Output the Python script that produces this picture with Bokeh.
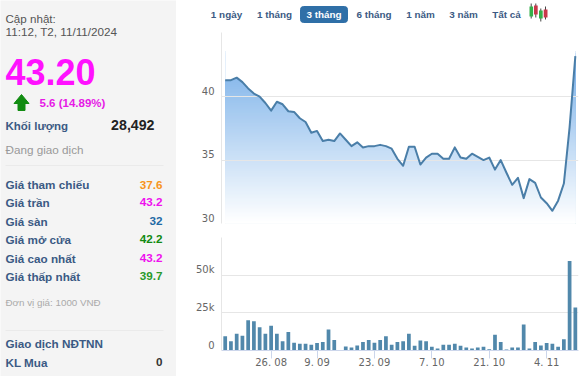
from bokeh.plotting import figure
from bokeh.layouts import row, column
from bokeh.embed import file_html
from bokeh.resources import INLINE
from bokeh.core.properties import value
from bokeh.models import FixedTicker

price = [41.3,41.3,41.5,41.15,40.65,40.25,40.0,39.5,38.9,39.6,39.4,38.85,38.8,38.3,38.0,37.15,37.3,36.5,36.6,36.5,
         37.1,36.6,36.1,36.4,36.0,36.1,36.1,36.2,36.1,35.9,35.1,34.55,36.05,36.05,34.65,35.2,35.5,35.5,35.1,35.1,
         36.0,35.2,35.1,35.5,35.25,35.0,35.2,34.25,35.0,34.0,33.05,33.6,32.0,33.5,33.2,32.05,31.6,31.0,31.8,33.15,37.6,43.2]
volume = [9.4,6.2,11.2,9.8,20,19.4,15.4,11.2,16.5,11.2,6.2,12.3,5.1,4.5,4.5,3.8,4.9,5.6,14,6.9,
          0,2.7,2,3.3,5.6,6.9,5.1,6.9,9.4,3.8,5.6,6.2,11.2,3.1,6.7,6.2,2.5,1.3,3.8,3.8,
          4.5,3.1,2,1.3,2,2.5,0.9,10.5,5.6,0.7,2,2,17.2,1.3,5.6,3.3,4.9,4.5,2.5,7.4,59.4,28.5]
idx = list(range(len(price)))
date_ticks = {8:"26. 08",16:"9. 09",26:"23. 09",36:"7. 10",46:"21. 10",56:"4. 11"}
price_ticks = [30,35,40]
vol_ticks = [0,25,50,75]
vol_labels = {0:"0",25:"25k",50:"50k"}

tabs = ["1 ngày","1 tháng","3 tháng","6 tháng","1 năm","3 năm","Tất cả"]
tab_x = [226,274,323.5,373.5,420,463,506]
tab_col = ["#3b5a84","#3b5a84","#ffffff","#3b5a84","#3b5a84","#3b5a84","#3b5a84"]

rows = ["Giá tham chiếu","Giá trần","Giá sàn","Giá mở cửa","Giá cao nhất","Giá thấp nhất"]
row_vals = ["37.6","43.2","32","42.2","43.2","39.7"]
row_cols = ["#f7941d","#ee11ee","#1f6aa5","#118a11","#ee11ee","#2a9a2a"]
row_y = [184,201.7,220.7,238.7,257.7,275.7]

LAB="#3b5a84"; F="Liberation Sans"; AX="DejaVu Sans"; AXC="#666666"

# ---------- side panel
s = figure(width=176,height=376,x_range=(0,176),y_range=(376,0),output_backend="svg",toolbar_location=None,
           min_border=0,outline_line_color=None,background_fill_color="#f4f4f4",border_fill_color="#f4f4f4",
           x_axis_type=None,y_axis_type=None,frame_align=False)
s.grid.visible=False
def T(fig,x,y,t,size,col,bold=False,align="left"):
    fig.text([x],[y],text=[t],text_font=value(F),text_font_size=f"{size}px",text_color=col,
             text_font_style="bold" if bold else "normal",text_align=align,text_baseline="middle")
T(s,5,18,"Cập nhật:",11.6,"#555555")
T(s,5,31,"11:12, T2, 11/11/2024",11.7,"#555555")
T(s,5,71.5,"43.20",36,"#ff11ff",True)
s.patch([21,28.5,24.5,24.5,17.5,17.5,13.5],[94,103,103,110,110,103,103],color="#128c12")
T(s,39,102,"5.6 (14.89%)",11.5,"#e619e6",True)
T(s,5,125,"Khối lượng",11.5,LAB,True)
T(s,154,124,"28,492",14.2,"#222222",True,"right")
T(s,5,149,"Đang giao dịch",11.7,"#999999")
s.segment([5,5],[165,330],[163,163],[165,330],line_color="#eaeaea",line_width=1)
for n,v,c,y in zip(rows,row_vals,row_cols,row_y):
    T(s,5,y,n,11.7,LAB,True)
    T(s,162,y,v,11.7,c,True,"right")
T(s,5,301.7,"Đơn vị giá: 1000 VNĐ",9.8,"#aaaaaa")
T(s,5,342.7,"Giao dịch NĐTNN",11.7,LAB,True)
T(s,5,361.7,"KL Mua",11.7,LAB,True)
T(s,162,361.7,"0",11.7,"#333333",True,"right")
T(s,5,380,"KL Bán",11.7,LAB,True)
T(s,162,380,"0",11.7,"#333333",True,"right")

# ---------- tab strip
t = figure(width=409,height=32,x_range=(176,585),y_range=(32,0),output_backend="svg",toolbar_location=None,
           min_border=0,outline_line_color=None,x_axis_type=None,y_axis_type=None,frame_align=False)
t.grid.visible=False
t.quad(left=[300],right=[347],top=[6],bottom=[22],color="#2f6fa7",border_radius=3)
for n,x,c in zip(tabs,tab_x,tab_col):
    T(t,x,13.5,n,9.9,c,True,"center")
t.segment([530.7,535.3,540.3,545],[3,3,8,6],[530.7,535.3,540.3,545],[18,17,21,19],line_color="#444444",line_width=1)
t.quad(left=[529,533.5,538.5,543.2],right=[532.6,537.2,542.2,547],top=[6,5,10,9],bottom=[16,14,18,17],
       fill_color=["#35b04a","#c8384a","#35b04a","#c8384a"],line_color=None)

def style_y(ax,ticks,labels,shift):
    # the reference sets its y labels just above their gridlines: the label ticks are lifted by `shift`
    ax.ticker=FixedTicker(ticks=[k+shift for k in ticks])
    ax.major_label_overrides={k+shift:l for k,l in zip(ticks,labels)}
    ax.axis_line_color="#e6e6e6"; ax.major_tick_line_color=None; ax.minor_tick_line_color=None
    ax.major_tick_in=0; ax.major_tick_out=0
    ax.major_label_text_font=AX; ax.major_label_text_font_size="10px"; ax.major_label_text_color=AXC
    ax.major_label_standoff=7

# ---------- price
p = figure(width=409,height=200,x_range=(-0.645,61.55),y_range=(30,45.06),output_backend="svg",toolbar_location=None,
           min_border_left=45,min_border_right=7,min_border_top=0,min_border_bottom=9,outline_line_color=None)
p.xaxis.visible=False
p.xgrid.visible=False
p.ygrid.grid_line_color="#e6e6e6"
p.ygrid.ticker=FixedTicker(ticks=price_ticks+[45.06])
style_y(p.yaxis[0],price_ticks,[str(k) for k in price_ticks],0.45)
# vertical colour fade under the price line, painted top to bottom, then masked above the line
n=86
c0=(118,174,232); c1=(255,255,255)
levels=[43.6-(13.6*i/n) for i in range(n)]
cols=["#%02x%02x%02x"%tuple(int(round(a+(b-a)*i/(n-1))) for a,b in zip(c0,c1)) for i in range(n)]
p.quad(left=idx[0],right=idx[-1],top=levels,bottom=30,fill_color=cols,line_color=None,level="image")
p.varea(x=idx,y1=price,y2=45.06,fill_color="#ffffff",level="image")
p.line(idx,price,line_color="#4a7ea8",line_width=2,line_join="round")

# ---------- volume
v = figure(width=409,height=144,x_range=p.x_range,y_range=(0,75),output_backend="svg",toolbar_location=None,
           min_border_left=45,min_border_right=7,min_border_top=5,min_border_bottom=26,outline_line_color=None)
v.vbar(x=idx,top=volume,width=0.65,fill_color="#5188ab",line_color=None)
v.xgrid.visible=False
v.ygrid.grid_line_color="#e6e6e6"
v.ygrid.ticker=FixedTicker(ticks=vol_ticks)
style_y(v.yaxis[0],list(vol_labels),list(vol_labels.values()),3.6)
ax2=v.xaxis[0]
ax2.ticker=FixedTicker(ticks=list(date_ticks)); ax2.major_label_overrides=date_ticks
ax2.axis_line_color="#ccd6eb"; ax2.major_tick_line_color="#ccd6eb"; ax2.major_tick_in=0; ax2.major_tick_out=8
ax2.minor_tick_line_color=None
ax2.major_label_text_font=AX; ax2.major_label_text_font_size="10px"; ax2.major_label_text_color=AXC
ax2.major_label_standoff=-2

root=row(s,column(t,p,v,spacing=0),spacing=0)
root.styles={"position":"absolute","left":"0px","top":"0px"}
open("out.html","w").write(file_html(root,INLINE))
